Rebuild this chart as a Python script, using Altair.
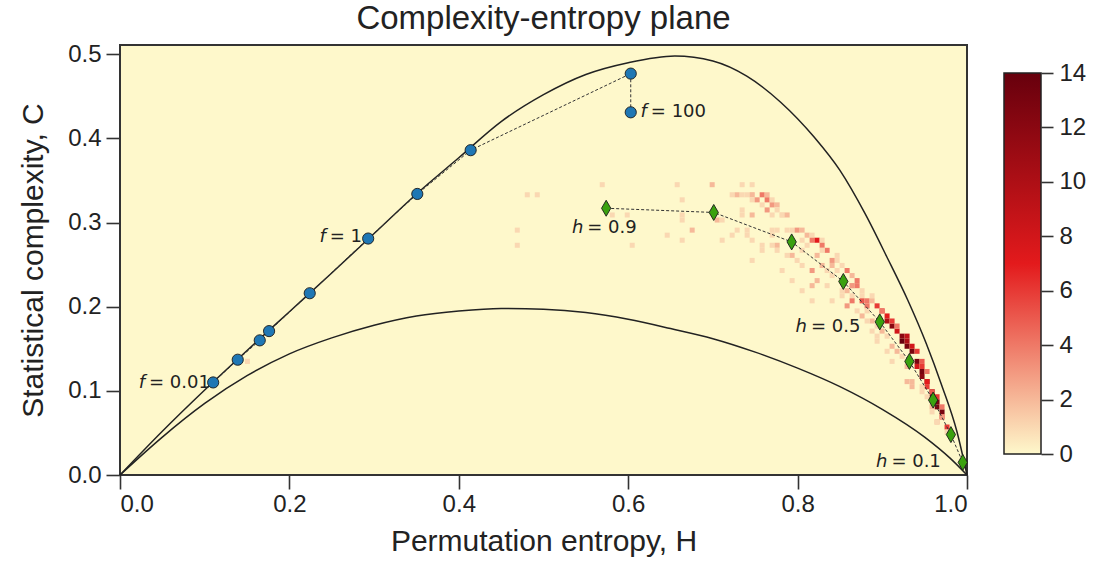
import altair as alt
import pandas as pd

# ---------------- data ----------------
upper_H = [0.0, 0.05, 0.10, 0.15, 0.20, 0.25, 0.30, 0.35, 0.40, 0.45, 0.50, 0.55, 0.60, 0.655,
           0.70, 0.74, 0.78, 0.82, 0.85, 0.88, 0.905, 0.93, 0.952, 0.97, 0.988, 1.0]
upper_C = [0.0, 0.052, 0.101, 0.148, 0.194, 0.240, 0.287, 0.334, 0.377, 0.420, 0.452, 0.476, 0.490, 0.498,
           0.492, 0.474, 0.443, 0.401, 0.362, 0.310, 0.260, 0.208, 0.156, 0.107, 0.052, 0.0]

lower_H = [0.0, 0.05, 0.10, 0.15, 0.20, 0.25, 0.30, 0.35, 0.40, 0.45, 0.50, 0.55, 0.60, 0.65,
           0.70, 0.75, 0.80, 0.85, 0.90, 0.95, 0.98, 1.0]
lower_C = [0.0, 0.045, 0.085, 0.118, 0.144, 0.163, 0.178, 0.189, 0.195, 0.198, 0.197, 0.193, 0.185, 0.174,
           0.162, 0.146, 0.127, 0.105, 0.078, 0.045, 0.020, 0.0]

f_H = [0.110, 0.139, 0.165, 0.176, 0.224, 0.293, 0.351, 0.414, 0.603, 0.603]
f_C = [0.110, 0.137, 0.160, 0.171, 0.216, 0.281, 0.334, 0.386, 0.477, 0.431]

h_H = [0.574, 0.701, 0.793, 0.854, 0.897, 0.932, 0.960, 0.981, 0.995]
h_C = [0.317, 0.312, 0.277, 0.230, 0.182, 0.135, 0.089, 0.048, 0.015]

label_letter = ["f", "f", "f", "h", "h", "h"]
label_rest = ["= 0.01", "= 1", "= 100", "= 0.9", "= 0.5", "= 0.1"]
label_H = [0.0295, 0.243, 0.622, 0.547, 0.811, 0.906]
label_C = [0.109, 0.283, 0.431, 0.293, 0.176, 0.015]

# 2-D histogram cells (H, C, count)
cell_H = [0.153,
          0.468, 0.470, 0.481, 0.491, 0.570, 0.582, 0.600, 0.606,
          0.647, 0.658, 0.661, 0.661, 0.665, 0.665, 0.673,
          0.697, 0.705, 0.712, 0.708, 0.720,
          0.720, 0.728, 0.734, 0.732, 0.744, 0.744,
          0.740, 0.747, 0.758, 0.764,
          0.744, 0.753, 0.764, 0.771,
          0.758, 0.770, 0.776,
          0.732, 0.764, 0.773, 0.782,
          0.734, 0.746, 0.770, 0.779, 0.787,
          0.728, 0.738, 0.767, 0.776, 0.785,
          0.740, 0.770, 0.746,
          0.758, 0.770, 0.776, 0.758, 0.776, 0.787, 0.746,
          0.795, 0.801, 0.806, 0.811, 0.817, 0.803, 0.817, 0.823, 0.830, 0.829, 0.836, 0.830,
          0.791, 0.799, 0.805, 0.782, 0.817, 0.823, 0.841, 0.848,
          0.848, 0.842, 0.854,
          0.858, 0.865, 0.871, 0.862, 0.870, 0.877,
          0.793, 0.817, 0.818, 0.805,
          0.842, 0.852, 0.862, 0.858, 0.865, 0.876, 0.881, 0.882,
          0.850, 0.836, 0.855,
          0.811, 0.805, 0.823, 0.842, 0.848, 0.836, 0.830, 0.866, 0.860, 0.876, 0.880,
          0.885, 0.889, 0.895, 0.897, 0.903, 0.907, 0.911, 0.915, 0.921, 0.924, 0.930, 0.933, 0.939,
          0.942, 0.945, 0.948, 0.950, 0.953, 0.956, 0.959, 0.962, 0.962, 0.968, 0.968, 0.966, 0.974, 0.974,
          0.901, 0.911, 0.917, 0.927, 0.930, 0.936, 0.939, 0.945, 0.945, 0.950, 0.953, 0.959, 0.962, 0.968, 0.971,
          0.889, 0.891, 0.901, 0.903, 0.909, 0.917, 0.921, 0.927, 0.933, 0.935, 0.929, 0.945, 0.947, 0.950,
          0.956, 0.959, 0.965,
          0.870, 0.876, 0.882, 0.894, 0.885, 0.895, 0.905, 0.913]
cell_C = [0.137,
          0.270, 0.290, 0.330, 0.330, 0.348, 0.306, 0.306, 0.275,
          0.287, 0.348, 0.306, 0.300, 0.324, 0.281, 0.294,
          0.348, 0.300, 0.300, 0.281, 0.287,
          0.335, 0.335, 0.335, 0.342, 0.342, 0.335,
          0.330, 0.330, 0.330, 0.330,
          0.324, 0.324, 0.324, 0.324,
          0.318, 0.318, 0.318,
          0.312, 0.312, 0.312, 0.311,
          0.306, 0.306, 0.306, 0.306, 0.306,
          0.294, 0.294, 0.294, 0.294, 0.294,
          0.287, 0.287, 0.281,
          0.270, 0.270, 0.270, 0.264, 0.264, 0.258, 0.252,
          0.293, 0.293, 0.293, 0.287, 0.287, 0.281, 0.281, 0.276, 0.276, 0.270, 0.264, 0.264,
          0.258, 0.252, 0.249, 0.240, 0.240, 0.232, 0.238, 0.240,
          0.252, 0.246, 0.246,
          0.240, 0.234, 0.232, 0.226, 0.226, 0.220,
          0.229, 0.222, 0.208, 0.216,
          0.208, 0.210, 0.214, 0.199, 0.204, 0.214, 0.200, 0.193,
          0.220, 0.222, 0.228,
          0.270, 0.264, 0.258, 0.252, 0.258, 0.240, 0.246, 0.222, 0.220, 0.208, 0.206,
          0.214, 0.208, 0.202, 0.196, 0.190, 0.184, 0.178, 0.172, 0.164, 0.158, 0.152, 0.145, 0.137,
          0.131, 0.125, 0.119, 0.113, 0.107, 0.099, 0.093, 0.087, 0.081, 0.075, 0.069, 0.063, 0.057, 0.051,
          0.196, 0.184, 0.178, 0.164, 0.158, 0.152, 0.145, 0.137, 0.131, 0.125, 0.113, 0.099, 0.093, 0.081, 0.069,
          0.181, 0.176, 0.170, 0.164, 0.152, 0.146, 0.140, 0.128, 0.113, 0.105, 0.110, 0.101, 0.107, 0.093,
          0.081, 0.075, 0.063,
          0.196, 0.190, 0.181, 0.164, 0.172, 0.158, 0.146, 0.134]
cell_n = [1,
          1, 1, 1, 1, 1, 1, 1, 1,
          1, 1, 1, 1, 1, 1, 2,
          2, 2, 1, 1, 1,
          1, 2, 1, 1, 1, 1,
          1, 2, 4, 2,
          1, 3, 4, 1,
          1, 3, 2,
          1, 3, 1, 1,
          1, 2, 1, 1, 2,
          1, 1, 1, 1, 1,
          1, 1, 1,
          1, 1, 2, 1, 1, 1, 1,
          1, 3, 2, 2, 1, 1, 4, 7, 1, 4, 4, 1,
          2, 1, 1, 1, 3, 2, 1, 1,
          1, 2, 1,
          4, 2, 4, 2, 4, 1,
          1, 2, 1, 1,
          1, 1, 1, 3, 4, 1, 4, 1,
          1, 1, 1,
          1, 1, 2, 3, 1, 1, 2, 3, 2, 5, 4,
          1, 2, 6, 6, 7, 10, 12, 8, 12, 14, 13, 13, 13,
          8, 13, 12, 12, 6, 13, 12, 13, 13, 13, 6, 2, 6, 1,
          4, 6, 4, 9, 10, 8, 6, 5, 6, 4, 7, 5, 6, 4, 3,
          2, 1, 2, 1, 2, 2, 1, 2, 2, 2, 2, 1, 1, 1,
          2, 1, 1,
          1, 2, 1, 1, 1, 1, 1, 1]

cbar_ticks = [0, 2, 4, 6, 8, 10, 12, 14]

# ---------------- styling constants ----------------
dH, dC = 0.0059, 0.006
C_TOP = 0.511
W, H = 847, 430
BG = "#fef8cb"
cmap_dom = [0, 7, 14]
cmap_rng = ["#fef8cb", "#e31a1c", "#67000d"]
FONT = "Liberation Sans"

cells = pd.DataFrame({"H": cell_H, "C": cell_C, "n": cell_n})
upper = pd.DataFrame({"H": upper_H, "C": upper_C, "k": range(len(upper_H))})
lower = pd.DataFrame({"H": lower_H, "C": lower_C, "k": range(len(lower_H))})
fpts = pd.DataFrame({"H": f_H, "C": f_C, "k": range(len(f_H))})
hpts = pd.DataFrame({"H": h_H, "C": h_C, "k": range(len(h_H))})
labels = pd.DataFrame({"H": label_H, "C": label_C, "a": label_letter, "b": label_rest})

xs = alt.Scale(domain=[0, 1], nice=False, zero=False)
ys = alt.Scale(domain=[0, C_TOP], nice=False, zero=False)

x_axis = alt.Axis(values=[0, 0.2, 0.4, 0.6, 0.8, 1.0], format=".1f", title="Permutation entropy, H",
                  titlePadding=10, labelPadding=3)
y_axis = alt.Axis(values=[0, 0.1, 0.2, 0.3, 0.4, 0.5], format=".1f", title="Statistical complexity, C",
                  titlePadding=19)

heat = alt.Chart(cells).transform_calculate(
    h0=f"floor(datum.H/{dH})*{dH}", h1=f"floor(datum.H/{dH})*{dH}+{dH}",
    c0=f"floor(datum.C/{dC})*{dC}", c1=f"floor(datum.C/{dC})*{dC}+{dC}",
).mark_rect(strokeWidth=0).encode(
    x=alt.X("h0:Q", scale=xs, axis=x_axis),
    x2="h1:Q",
    y=alt.Y("c0:Q", scale=ys, axis=y_axis),
    y2="c1:Q",
    color=alt.Color("n:Q", scale=alt.Scale(domain=cmap_dom, range=cmap_rng, interpolate="rgb"), legend=None),
)

def curve(df):
    return alt.Chart(df).mark_line(color="#222222", strokeWidth=1.5, interpolate="monotone").encode(
        x=alt.X("H:Q", scale=xs), y=alt.Y("C:Q", scale=ys), order="k:Q")

def dashed(df):
    return alt.Chart(df).mark_line(color="#333333", strokeWidth=1, strokeDash=[3, 2]).encode(
        x=alt.X("H:Q", scale=xs), y=alt.Y("C:Q", scale=ys), order="k:Q")

circles = alt.Chart(fpts).mark_point(shape="circle", filled=True, size=125, color="#1f77b4",
                                      stroke="#1a1a1a", strokeWidth=0.9, opacity=1).encode(
    x=alt.X("H:Q", scale=xs), y=alt.Y("C:Q", scale=ys))

diamonds = alt.Chart(hpts).mark_point(shape="M0,-1L0.58,0L0,1L-0.58,0Z", filled=True, size=256,
                                       color="#3aa10f", stroke="#1a1a1a", strokeWidth=0.9, opacity=1).encode(
    x=alt.X("H:Q", scale=xs), y=alt.Y("C:Q", scale=ys))

lab_a = alt.Chart(labels).mark_text(font="DejaVu Sans", fontStyle="italic", fontSize=18, align="right",
                                    baseline="middle", color="#222222").encode(
    x=alt.X("H:Q", scale=xs), y=alt.Y("C:Q", scale=ys), text="a:N")
lab_b = alt.Chart(labels).mark_text(font="DejaVu Sans", fontSize=18, align="left", dx=4,
                                    baseline="middle", color="#222222").encode(
    x=alt.X("H:Q", scale=xs), y=alt.Y("C:Q", scale=ys), text="b:N")

main = alt.layer(heat, curve(upper), curve(lower), dashed(fpts), dashed(hpts),
                 circles, diamonds, lab_a, lab_b)

# colour bar drawn as a layer with its own y scale
cb_df = pd.DataFrame({"lo": [0], "hi": [14]})
cb_scale = alt.Scale(domain=[0, 14], range=[H - 21, 28], nice=False, zero=False)
grad = alt.Gradient(gradient="linear", x1=0, x2=0, y1=1, y2=0,
                    stops=[alt.GradientStop(color=cmap_rng[0], offset=0),
                           alt.GradientStop(color=cmap_rng[1], offset=0.5),
                           alt.GradientStop(color=cmap_rng[2], offset=1)])
cbar = alt.Chart(cb_df).mark_rect(color=grad, stroke="#222222", strokeWidth=1.5).encode(
    x=alt.value(W + 37), x2=alt.value(W + 74),
    y=alt.Y("lo:Q", scale=cb_scale,
            axis=alt.Axis(orient="right", offset=74, values=cbar_ticks, title=None, domain=False,
                          tickSize=12, labelPadding=6, grid=False)),
    y2="hi:Q",
)

chart = alt.layer(main, cbar).resolve_scale(y="independent").properties(
    width=W, height=H,
    background="white",
    padding={"left": 120, "top": 45, "right": 139, "bottom": 98},
    autosize=alt.AutoSizeParams(type="none"),
    title=alt.TitleParams("Complexity-entropy plane", fontSize=33, font=FONT, fontWeight="normal",
                          color="#222222", offset=6, anchor="middle"),
).configure_view(fill=BG, stroke="#333333", strokeWidth=2).configure_axis(
    labelFont=FONT, titleFont=FONT, labelFontSize=24, titleFontSize=30, titleFontWeight="normal",
    labelColor="#222222", titleColor="#222222", tickColor="#333333", tickWidth=1.6, tickSize=14,
    labelPadding=5, domain=False, grid=False,
)

chart.save("out.html", embed_options={"renderer": "svg", "actions": False})
